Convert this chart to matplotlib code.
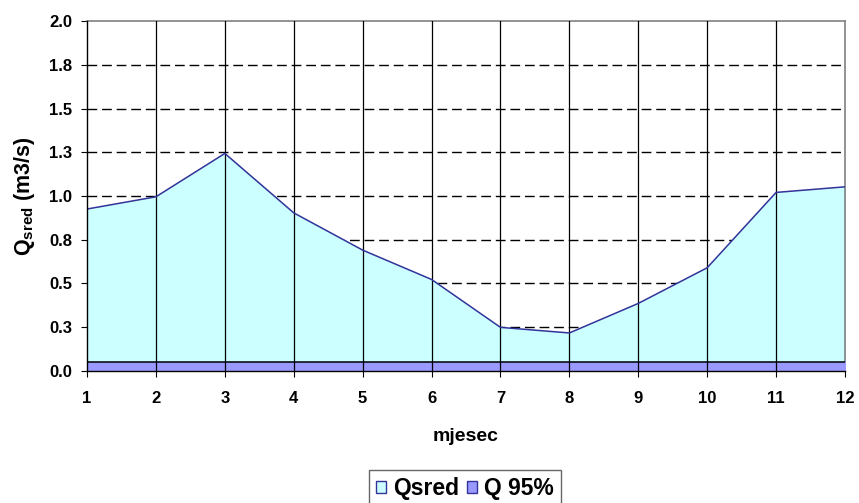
import matplotlib
matplotlib.use("Agg")
from matplotlib import pyplot as plt
from matplotlib.patches import Patch

plt.rcParams['font.family'] = ['Liberation Sans', 'DejaVu Sans']
plt.rcParams['font.weight'] = 'bold'
plt.rcParams['mathtext.fontset'] = 'custom'
plt.rcParams['mathtext.rm'] = 'Liberation Sans:bold'

# data
months = [1, 2, 3, 4, 5, 6, 7, 8, 9, 10, 11, 12]
q_sred = [0.925, 0.995, 1.243, 0.903, 0.69, 0.522, 0.248, 0.216, 0.385, 0.589, 1.02, 1.052]
q_95 = [0.048] * 12
y_ticks = [0.0, 0.25, 0.5, 0.75, 1.0, 1.25, 1.5, 1.75, 2.0]
y_tick_labels = ['0.0', '0.3', '0.5', '0.8', '1.0', '1.3', '1.5', '1.8', '2.0']

fig = plt.figure(figsize=(8.59, 5.03), dpi=100)
ax = fig.add_axes([0.1013, 0.263, 0.8824, 0.695])

# dashed horizontal grid behind the areas
for y in y_ticks[1:-1]:
    ax.axhline(y, color='black', linestyle=(0, (7, 3.5)), linewidth=1.0, zorder=1)

ax.fill_between(months, 0, q_sred, color='#CCFFFF', zorder=2)
ax.plot(months, q_sred, color='#333399', linewidth=1.1, zorder=4)
ax.fill_between(months, 0, q_95, color='#9999FF', zorder=3)
ax.plot(months, q_95, color='black', linewidth=1.1, zorder=4)

# vertical lines drawn over the areas
for m in months[1:-1]:
    ax.axvline(m, color='black', linewidth=0.9, zorder=3.5)

ax.set_xlim(1, 12)
ax.set_ylim(0, 2.0)
ax.set_xticks(months)
ax.set_yticks(y_ticks)
ax.set_yticklabels(y_tick_labels)
ax.tick_params(direction='out', length=4.5, width=0.8, labelsize=12)
ax.tick_params(axis='x', pad=10)
ax.tick_params(axis='y', pad=6)

for side in ['top', 'right']:
    ax.spines[side].set_color('#808080')
    ax.spines[side].set_linewidth(1.2)
for side in ['left', 'bottom']:
    ax.spines[side].set_color('black')
    ax.spines[side].set_linewidth(1.0)
    ax.spines[side].set_zorder(5)

ax.set_xlabel('mjesec', fontsize=14, fontweight='bold', labelpad=16)
ax.set_ylabel(r'Q$_{\mathrm{sred}}$ (m3/s)', fontsize=15.5, fontweight='bold', labelpad=9)

handles = [Patch(facecolor='#CCFFFF', edgecolor='#333399', label='Qsred'),
           Patch(facecolor='#9999FF', edgecolor='#333399', label='Q 95%')]
leg = fig.legend(handles=handles, loc='upper center', bbox_to_anchor=(0.5413, 0.0656), ncol=2,
                 fontsize=16.5, frameon=True, fancybox=False, handlelength=0.45, handleheight=0.45,
                 handletextpad=0.3, columnspacing=0.35, borderpad=0.3, borderaxespad=0)
leg.get_frame().set_edgecolor('#404040')
leg.get_frame().set_linewidth(1.0)
for t in leg.get_texts():
    t.set_fontweight('bold')

plt.savefig('out.png', dpi=100)
